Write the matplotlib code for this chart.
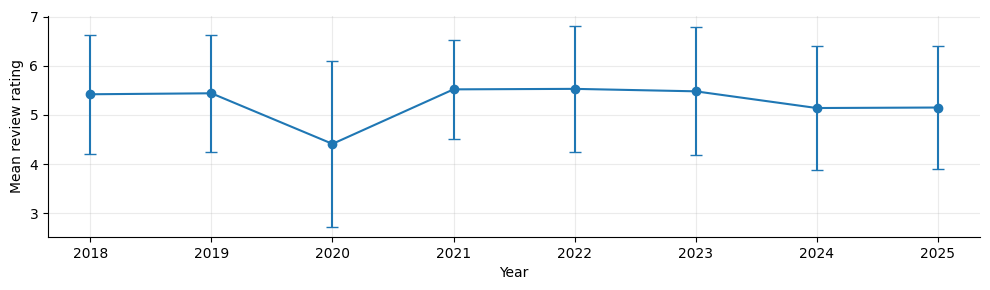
import matplotlib.pyplot as plt

years = [2018, 2019, 2020, 2021, 2022, 2023, 2024, 2025]
mean_rating = [5.42, 5.44, 4.41, 5.52, 5.53, 5.48, 5.14, 5.15]
rating_sd = [1.21, 1.19, 1.69, 1.01, 1.28, 1.30, 1.26, 1.25]

fig, ax = plt.subplots(figsize=(9.9, 2.9), dpi=100)

ax.errorbar(years, mean_rating, yerr=rating_sd, fmt="-o", color="#1f77b4",
            capsize=4, linewidth=1.5, markersize=6)

ax.set_xticks(years)
ax.set_xlabel("Year")
ax.set_ylabel("Mean review rating")
ax.grid(True, alpha=0.25)
ax.spines["top"].set_visible(False)
ax.spines["right"].set_visible(False)

fig.subplots_adjust(left=0.0485, right=0.99, top=0.945, bottom=0.183)
fig.savefig("out.png")
